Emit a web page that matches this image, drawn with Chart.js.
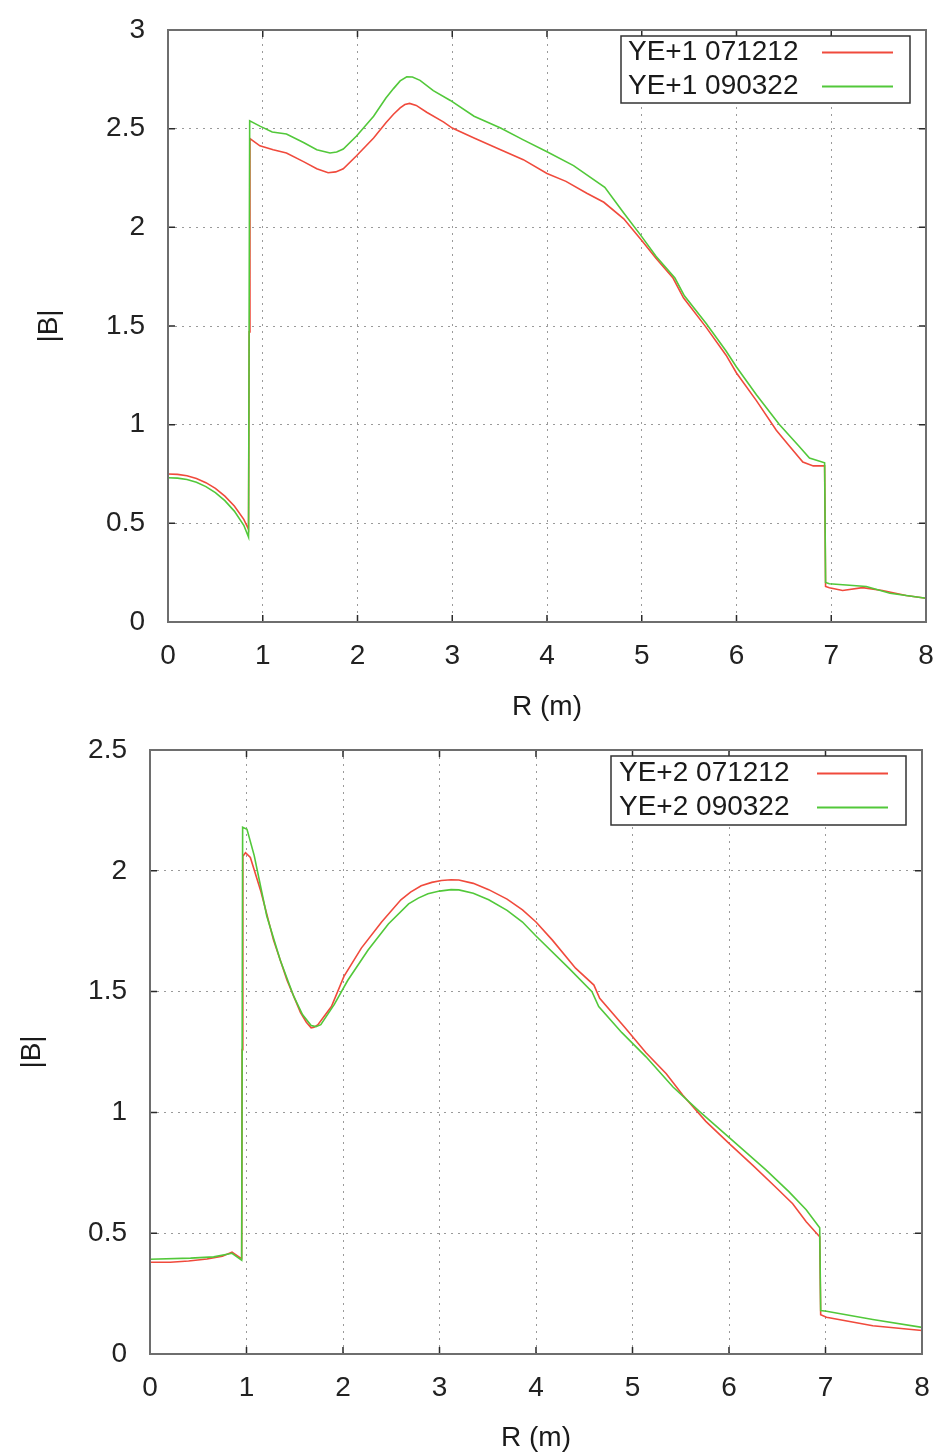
<!DOCTYPE html>
<html>
<head>
<meta charset="utf-8">
<title>|B| vs R</title>
<script src="https://cdn.jsdelivr.net/npm/chart.js@4.4.0/dist/chart.umd.min.js"></script>
<style>
  html, body { margin: 0; padding: 0; background: #fff; }
  #wrap { position: relative; width: 938px; height: 1456px; }
  canvas { position: absolute; left: 0; }
  #c1 { top: 0; }
  #c2 { top: 728px; }
</style>
</head>
<body>
<div id="wrap">
  <canvas id="c1" width="938" height="728" style="width:938px;height:728px"></canvas>
  <canvas id="c2" width="938" height="728" style="width:938px;height:728px"></canvas>
</div>
<script>
/* ---------- data: top panel (YE+1) ---------- */
var R_YE1_071212 = [0, 0.1, 0.2, 0.3, 0.4, 0.5, 0.6, 0.7, 0.8, 0.85, 0.857, 0.865,
  0.97, 1.11, 1.25, 1.43, 1.57, 1.69, 1.77, 1.85, 1.99, 2.17, 2.30, 2.38, 2.45, 2.50, 2.55, 2.62, 2.73, 2.91,
  3.0, 3.23, 3.51, 3.75, 4.0, 4.20, 4.42, 4.60, 4.81, 5.0, 5.15, 5.33, 5.44, 5.68,
  5.89, 6.0, 6.21, 6.42, 6.56, 6.70, 6.81, 6.93, 6.94, 6.98, 7.12, 7.33, 7.54, 7.79, 8.0];
var B_YE1_071212 = [0.750, 0.748, 0.741, 0.727, 0.706, 0.677, 0.638, 0.588, 0.52, 0.47, 1.47, 2.45,
  2.413, 2.393, 2.377, 2.333, 2.297, 2.277, 2.281, 2.297, 2.363, 2.453, 2.53, 2.573, 2.605, 2.622, 2.628, 2.618, 2.583, 2.533,
  2.503, 2.453, 2.393, 2.343, 2.273, 2.233, 2.173, 2.127, 2.043, 1.933, 1.843, 1.743, 1.643, 1.493,
  1.352, 1.262, 1.122, 0.972, 0.891, 0.811, 0.791, 0.791, 0.18, 0.174, 0.16, 0.174, 0.16, 0.134, 0.12];

var R_YE1_090322 = [0, 0.1, 0.2, 0.3, 0.4, 0.5, 0.6, 0.7, 0.8, 0.85, 0.862,
  0.97, 1.10, 1.25, 1.43, 1.57, 1.71, 1.78, 1.85, 1.99, 2.17, 2.30, 2.38, 2.45, 2.52, 2.58, 2.66, 2.80, 2.98,
  3.23, 3.51, 3.75, 4.0, 4.28, 4.61, 4.81, 5.0, 5.15, 5.35, 5.45, 5.68, 5.89, 6.0,
  6.21, 6.45, 6.66, 6.77, 6.93, 6.94, 6.98, 7.37, 7.62, 8.0];
var B_YE1_090322 = [0.731, 0.729, 0.722, 0.708, 0.686, 0.656, 0.615, 0.562, 0.49, 0.43, 2.54,
  2.513, 2.483, 2.473, 2.43, 2.393, 2.377, 2.382, 2.397, 2.463, 2.563, 2.655, 2.703, 2.742, 2.763, 2.762, 2.745, 2.693, 2.643,
  2.563, 2.503, 2.443, 2.383, 2.313, 2.203, 2.073, 1.953, 1.853, 1.743, 1.653, 1.513, 1.373, 1.292,
  1.152, 1.002, 0.891, 0.831, 0.807, 0.20, 0.194, 0.18, 0.146, 0.12];

/* ---------- data: bottom panel (YE+2) ---------- */
var R_YE2_071212 = [0, 0.21, 0.4, 0.59, 0.75, 0.85, 0.94, 0.95, 0.955, 0.962, 0.99,
  1.04, 1.15, 1.28, 1.42, 1.56, 1.62, 1.67, 1.70, 1.74, 1.88, 2.01, 2.19, 2.40, 2.60, 2.70, 2.81, 2.92, 3.02,
  3.12, 3.2, 3.35, 3.51, 3.70, 3.86, 4.0, 4.17, 4.41, 4.60, 4.66, 4.93, 5.14, 5.35, 5.52, 5.76, 6.0,
  6.25, 6.49, 6.66, 6.80, 6.94, 6.95, 7.01, 7.49, 8.0];
var B_YE2_071212 = [0.38, 0.38, 0.385, 0.393, 0.405, 0.422, 0.397, 0.395, 1.26, 2.06, 2.075,
  2.055, 1.913, 1.713, 1.547, 1.413, 1.373, 1.35, 1.352, 1.363, 1.438, 1.563, 1.68, 1.788, 1.88, 1.912, 1.938, 1.952, 1.96,
  1.963, 1.962, 1.948, 1.922, 1.883, 1.838, 1.788, 1.713, 1.597, 1.527, 1.472, 1.347, 1.247, 1.16, 1.072, 0.963, 0.872,
  0.78, 0.688, 0.622, 0.547, 0.485, 0.163, 0.152, 0.117, 0.097];

var R_YE2_090322 = [0, 0.42, 0.66, 0.85, 0.95, 0.96, 1.005, 1.08, 1.21, 1.35, 1.49,
  1.58, 1.67, 1.72, 1.77, 1.91, 2.05, 2.26, 2.47, 2.68, 2.78, 2.88, 3.0, 3.12, 3.2, 3.35, 3.51, 3.70, 3.86, 4.0, 4.34,
  4.58, 4.65, 4.89, 5.14, 5.42, 5.69, 6.0, 6.38, 6.62, 6.80, 6.94, 6.95, 7.01, 7.49, 8.0];
var B_YE2_090322 = [0.392, 0.397, 0.402, 0.417, 0.388, 2.18, 2.172, 2.063, 1.813, 1.63, 1.48,
  1.405, 1.36, 1.355, 1.363, 1.447, 1.547, 1.672, 1.78, 1.863, 1.887, 1.905, 1.916, 1.922, 1.921, 1.907, 1.88, 1.836, 1.788, 1.73, 1.597,
  1.5, 1.438, 1.33, 1.23, 1.105, 1.005, 0.897, 0.763, 0.672, 0.597, 0.522, 0.18, 0.177, 0.143, 0.11];

var X_TICKS = { min: 0, max: 8, step: 1 };
var Y_TICKS_TOP = { min: 0, max: 3, step: 0.5 };
var Y_TICKS_BOTTOM = { min: 0, max: 2.5, step: 0.5 };

var RED = "#f04a3c";
var GREEN = "#52c83a";
var FONT = '"Liberation Sans", Arial, sans-serif';
var FONT_SIZE = 28;

/* ---------- helpers ---------- */
function toPoints(rs, bs) {
  return rs.map(function (r, i) { return { x: r, y: bs[i] }; });
}

function fmt(v) { return String(parseFloat(Number(v).toFixed(2))); }

/* frame + inward tick marks, gnuplot style */
var frameTicks = {
  id: "frameTicks",
  afterDatasetsDraw: function (chart) {
    var a = chart.chartArea, ctx = chart.ctx;
    var xs = chart.scales.x, ys = chart.scales.y;
    var tl = 7;
    ctx.save();
    ctx.strokeStyle = "#2a2a2a";
    ctx.lineWidth = 1.5;
    ctx.beginPath();
    xs.ticks.forEach(function (t) {
      var px = xs.getPixelForValue(t.value);
      ctx.moveTo(px, a.bottom); ctx.lineTo(px, a.bottom - tl);
      ctx.moveTo(px, a.top); ctx.lineTo(px, a.top + tl);
    });
    ys.ticks.forEach(function (t) {
      var py = ys.getPixelForValue(t.value);
      ctx.moveTo(a.left, py); ctx.lineTo(a.left + tl, py);
      ctx.moveTo(a.right, py); ctx.lineTo(a.right - tl, py);
    });
    ctx.stroke();
    ctx.strokeStyle = "#6e6e6e";
    ctx.lineWidth = 2;
    ctx.strokeRect(a.left, a.top, a.right - a.left, a.bottom - a.top);
    ctx.restore();
  }
};

/* boxed key in the top-right corner */
var boxKey = {
  id: "boxKey",
  afterDraw: function (chart, args, o) {
    var ctx = chart.ctx;
    ctx.save();
    ctx.fillStyle = "#fff";
    ctx.fillRect(o.x, o.y, o.w, o.h);
    ctx.strokeStyle = "#333";
    ctx.lineWidth = 1.5;
    ctx.strokeRect(o.x, o.y, o.w, o.h);
    ctx.font = FONT_SIZE + "px " + FONT;
    ctx.textBaseline = "middle";
    ctx.textAlign = "left";
    chart.data.datasets.forEach(function (ds, i) {
      var y = o.rows[i];
      ctx.fillStyle = "#1a1a1a";
      ctx.fillText(ds.label, o.textX, y);
      ctx.strokeStyle = ds.borderColor;
      ctx.lineWidth = 2;
      ctx.beginPath();
      ctx.moveTo(o.lineX1, y);
      ctx.lineTo(o.lineX2, y);
      ctx.stroke();
    });
    ctx.restore();
  }
};

function buildChart(id, o) {
  return new Chart(document.getElementById(id), {
    type: "scatter",
    data: {
      datasets: [
        { label: o.labels[0], data: toPoints(o.r1, o.b1), borderColor: RED, order: 1 },
        { label: o.labels[1], data: toPoints(o.r2, o.b2), borderColor: GREEN, order: 0 }
      ].map(function (d) {
        d.showLine = true;
        d.borderWidth = 1.6;
        d.pointRadius = 0;
        d.pointHoverRadius = 0;
        d.tension = 0;
        d.fill = false;
        d.backgroundColor = d.borderColor;
        return d;
      })
    },
    options: {
      responsive: false,
      animation: false,
      events: [],
      layout: { padding: { left: 0, right: o.padRight, top: o.padTop, bottom: 0 } },
      plugins: {
        legend: { display: false },
        tooltip: { enabled: false },
        boxKey: o.key
      },
      scales: {
        x: {
          type: "linear",
          min: X_TICKS.min, max: X_TICKS.max,
          ticks: {
            stepSize: X_TICKS.step, padding: 17, color: "#222",
            font: { family: FONT, size: FONT_SIZE }, maxRotation: 0,
            callback: function (v) { return fmt(v); }
          },
          grid: { color: "#9a9a9a", lineWidth: 1, drawTicks: false },
          border: { display: false, dash: [2, 5] },
          title: {
            display: true, text: "R (m)", color: "#1a1a1a",
            font: { family: FONT, size: FONT_SIZE }, padding: { top: 0, bottom: o.xTitlePad }
          },
          afterFit: function (s) {
            s.height = o.xAxisH;
            s.paddingLeft = 0;
            s.paddingRight = 0;
          }
        },
        y: {
          type: "linear",
          min: o.yTicks.min, max: o.yTicks.max,
          ticks: {
            stepSize: o.yTicks.step, padding: 23, color: "#222",
            font: { family: FONT, size: FONT_SIZE },
            callback: function (v) { return fmt(v); }
          },
          grid: { color: "#9a9a9a", lineWidth: 1, drawTicks: false },
          border: { display: false, dash: [2, 5] },
          title: {
            display: true, text: "|B|", color: "#1a1a1a",
            font: { family: FONT, size: FONT_SIZE }, padding: { top: o.yTitlePad, bottom: 0 }
          },
          afterFit: function (s) {
            s.width = o.yAxisW;
            s.paddingTop = 0;
            s.paddingBottom = 0;
          }
        }
      }
    },
    plugins: [frameTicks, boxKey]
  });
}

buildChart("c1", {
  labels: ["YE+1 071212", "YE+1 090322"],
  r1: R_YE1_071212, b1: B_YE1_071212,
  r2: R_YE1_090322, b2: B_YE1_090322,
  yTicks: Y_TICKS_TOP,
  padTop: 30, padRight: 12, yAxisW: 168, xAxisH: 106,
  xTitlePad: 4, yTitlePad: 32,
  key: { x: 621, y: 36, w: 289, h: 67, textX: 628, lineX1: 822, lineX2: 893, rows: [52.5, 86.5] }
});

buildChart("c2", {
  labels: ["YE+2 071212", "YE+2 090322"],
  r1: R_YE2_071212, b1: B_YE2_071212,
  r2: R_YE2_090322, b2: B_YE2_090322,
  yTicks: Y_TICKS_BOTTOM,
  padTop: 22, padRight: 16, yAxisW: 150, xAxisH: 102,
  xTitlePad: 1, yTitlePad: 15,
  key: { x: 611, y: 28, w: 295, h: 69, textX: 619, lineX1: 817, lineX2: 888, rows: [45.5, 79.5] }
});
</script>
</body>
</html>
